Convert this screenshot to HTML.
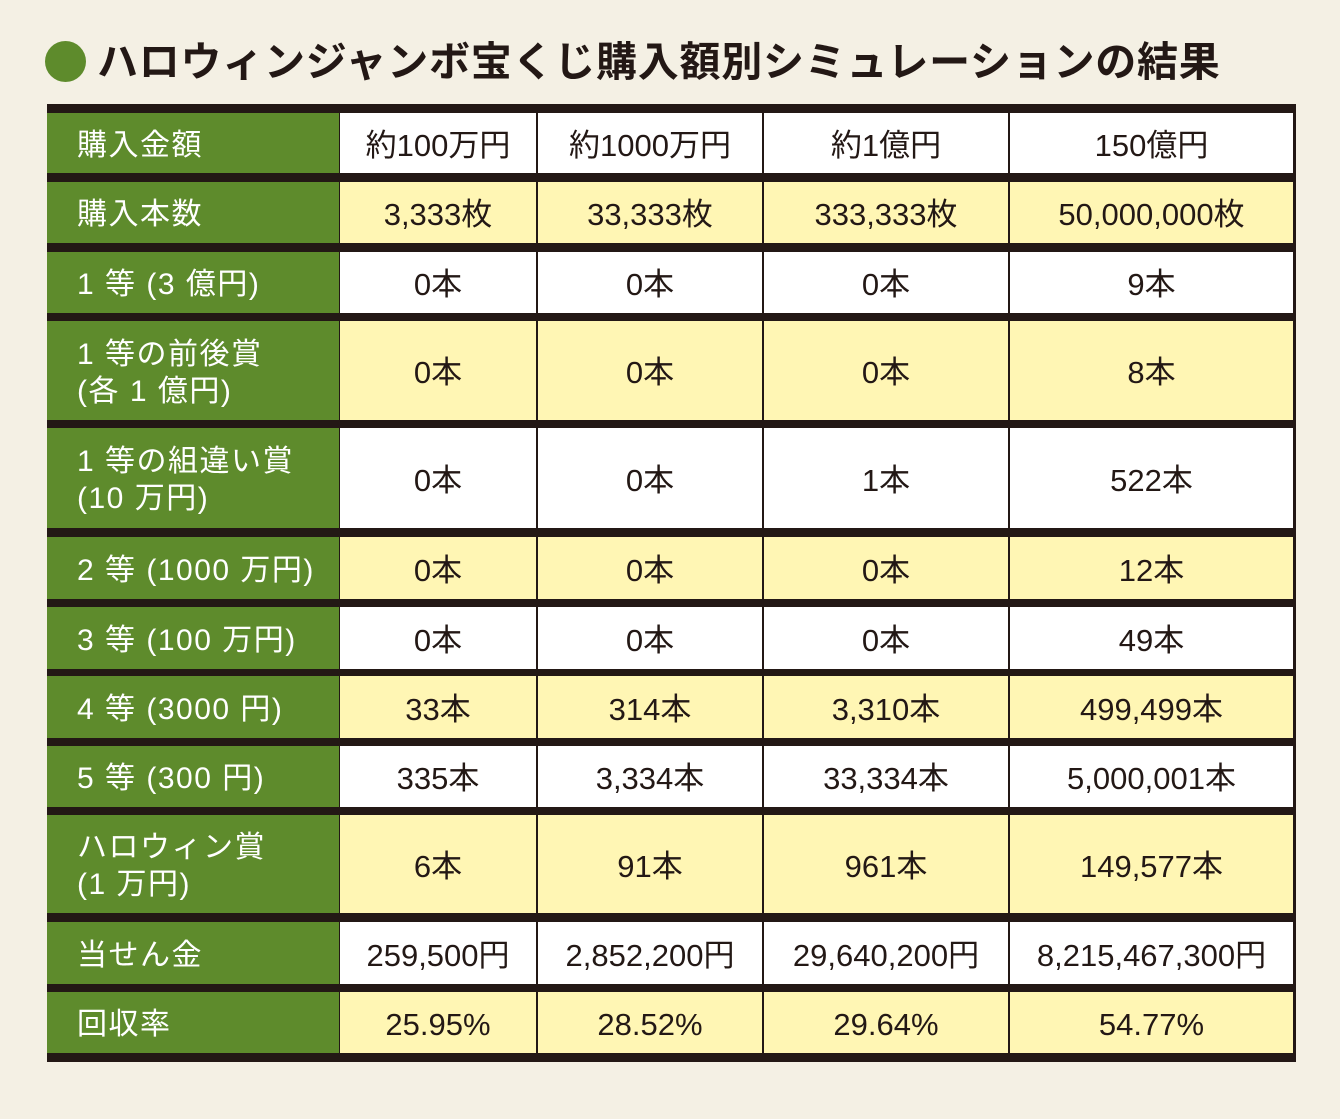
<!DOCTYPE html>
<html><head><meta charset="utf-8"><style>
body{margin:0;width:1340px;height:1119px;background:#f4f0e4;position:relative;overflow:hidden;font-family:"Liberation Sans","Noto Sans CJK JP",sans-serif;}
#title-dot{position:absolute;left:45px;top:41px;width:41px;height:41px;border-radius:50%;background:#5e8b2c;}
#title{position:absolute;left:97px;top:35px;font-size:41px;font-weight:bold;color:#231815;letter-spacing:0.75px;white-space:nowrap;line-height:54px;}
#tbl{position:absolute;left:47px;top:104px;width:1249px;height:958px;background:#231815;}
.c{position:absolute;display:flex;align-items:center;justify-content:center;font-size:31px;color:#231815;text-align:center;line-height:37px;padding-top:4px;box-sizing:border-box;}
.lab{justify-content:flex-start;padding-left:30px;background:#5e8b2c;color:#fff;text-align:left;font-size:30px;letter-spacing:1.5px;white-space:nowrap;}
.w{background:#fff}.y{background:#fff6b4}
</style></head><body>
<div id="title-dot"></div>
<div id="title">ハロウィンジャンボ宝くじ購入額別シミュレーションの結果</div>
<div id="tbl"></div>
<script>
const rowLabels=["購入金額","購入本数","1 等 (3 億円)","1 等の前後賞<br>(各 1 億円)","1 等の組違い賞<br>(10 万円)","2 等 (1000 万円)","3 等 (100 万円)","4 等 (3000 円)","5 等 (300 円)","ハロウィン賞<br>(1 万円)","当せん金","回収率"];
const col1=["約100万円","3,333枚","0本","0本","0本","0本","0本","33本","335本","6本","259,500円","25.95%"];
const col2=["約1000万円","33,333枚","0本","0本","0本","0本","0本","314本","3,334本","91本","2,852,200円","28.52%"];
const col3=["約1億円","333,333枚","0本","0本","1本","0本","0本","3,310本","33,334本","961本","29,640,200円","29.64%"];
const col4=["150億円","50,000,000枚","9本","8本","522本","12本","49本","499,499本","5,000,001本","149,577本","8,215,467,300円","54.77%"];
const rowTops=[9,78,148,217,324,433,503,572,642,711,818,888];
const rowHeights=[60,61,61,99,100,62,62,62,61,98,62,61];
const colLefts=[0,293,491,717,963];
const colWidths=[292,196,224,244,283];
const tbl=document.getElementById('tbl');
const cols=[rowLabels,col1,col2,col3,col4];
for(let r=0;r<rowLabels.length;r++){
  for(let c=0;c<5;c++){
    const d=document.createElement('div');
    d.className='c '+(c===0?'lab':(r%2===0?'w':'y'));
    d.style.left=colLefts[c]+'px';d.style.top=rowTops[r]+'px';
    d.style.width=colWidths[c]+'px';d.style.height=rowHeights[r]+'px';
    d.innerHTML='<span>'+cols[c][r]+'</span>';
    
    
    tbl.appendChild(d);
  }
}
</script>
</body></html>
